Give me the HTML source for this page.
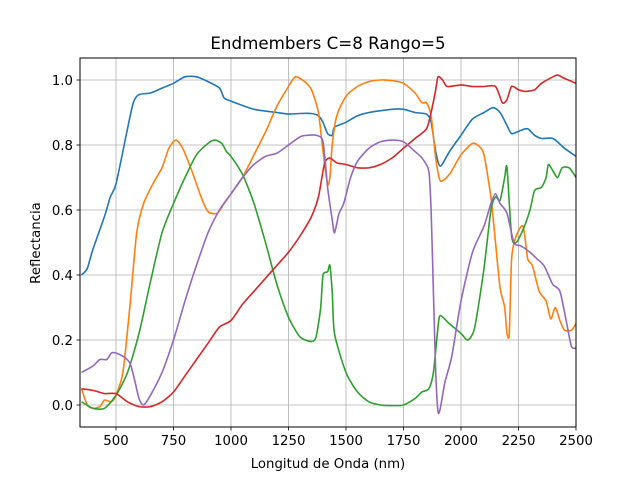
<!DOCTYPE html>
<html><head><meta charset="utf-8"><style>
body{margin:0;background:#fff;}
svg text{font-family:"DejaVu Sans","Liberation Sans",sans-serif;}
</style></head><body>
<svg id="chart" width="640" height="480" xmlns="http://www.w3.org/2000/svg">
<rect width="640" height="480" fill="#fff"/>
<defs><clipPath id="clip"><rect x="80" y="58" width="496" height="369"/></clipPath></defs>
<g id="grid"></g>
<g id="lines" clip-path="url(#clip)"></g>
<rect x="80" y="58" width="496" height="369" fill="none" stroke="#000" stroke-width="1"/>
<g id="ticks"></g>
<text x="328" y="49" font-size="16.7" text-anchor="middle">Endmembers C=8 Rango=5</text>
<text x="328" y="468" font-size="13.3" text-anchor="middle">Longitud de Onda (nm)</text>
<text x="40" y="243" font-size="13.3" text-anchor="middle" transform="rotate(-90 40 243)">Reflectancia</text>
</svg>
<script>
const xTicks=[500,750,1000,1250,1500,1750,2000,2250,2500];
const yTicks=[0.0,0.2,0.4,0.6,0.8,1.0];
const blueWl=[350,375,400,450,475,500,550,575,600,650,700,750,800,850,900,950,970,1000,1100,1200,1250,1300,1350,1380,1400,1420,1440,1450,1500,1550,1600,1700,1750,1800,1850,1870,1890,1910,1950,2000,2050,2100,2140,2170,2200,2220,2260,2290,2320,2350,2400,2450,2500];
const blueVal=[0.40,0.42,0.48,0.58,0.64,0.68,0.85,0.93,0.955,0.96,0.975,0.99,1.01,1.01,0.995,0.975,0.945,0.935,0.91,0.9,0.895,0.897,0.897,0.89,0.87,0.835,0.83,0.855,0.87,0.89,0.9,0.91,0.91,0.9,0.895,0.87,0.78,0.735,0.78,0.83,0.88,0.9,0.915,0.9,0.86,0.835,0.845,0.85,0.83,0.82,0.82,0.79,0.765];
const orangeWl=[350,375,400,430,450,480,500,530,560,590,620,660,700,730,760,790,830,870,900,940,970,1000,1050,1100,1150,1200,1250,1280,1320,1350,1380,1400,1420,1430,1440,1460,1500,1550,1600,1650,1700,1750,1800,1830,1850,1870,1890,1910,1950,2000,2050,2080,2100,2130,2150,2170,2190,2200,2210,2220,2240,2270,2290,2310,2340,2370,2390,2410,2430,2450,2480,2500];
const orangeVal=[0.05,0.0,-0.01,-0.005,0.015,0.01,0.03,0.1,0.3,0.53,0.62,0.68,0.73,0.79,0.815,0.79,0.72,0.64,0.595,0.59,0.62,0.65,0.7,0.77,0.84,0.92,0.98,1.01,0.995,0.97,0.9,0.78,0.68,0.7,0.8,0.89,0.95,0.98,0.995,1.0,0.998,0.99,0.96,0.93,0.93,0.89,0.76,0.69,0.71,0.77,0.805,0.795,0.77,0.64,0.5,0.36,0.3,0.22,0.22,0.45,0.52,0.55,0.45,0.43,0.35,0.32,0.265,0.3,0.26,0.23,0.23,0.25];
const greenWl=[350,400,450,500,550,600,650,700,750,800,850,900,930,960,980,1000,1050,1100,1150,1200,1250,1300,1350,1370,1390,1400,1420,1430,1440,1450,1500,1550,1600,1650,1700,1750,1800,1830,1860,1880,1900,1910,1950,2000,2030,2060,2100,2130,2150,2170,2190,2200,2220,2240,2270,2300,2320,2350,2370,2380,2400,2420,2440,2470,2500];
const greenVal=[0.01,-0.01,-0.01,0.03,0.1,0.22,0.38,0.53,0.62,0.7,0.77,0.805,0.815,0.805,0.78,0.765,0.71,0.62,0.5,0.37,0.27,0.21,0.195,0.21,0.3,0.4,0.41,0.43,0.35,0.22,0.1,0.04,0.01,0.0,-0.002,0.0,0.02,0.04,0.05,0.1,0.24,0.275,0.25,0.22,0.2,0.24,0.42,0.6,0.64,0.63,0.7,0.73,0.52,0.5,0.54,0.6,0.66,0.67,0.7,0.74,0.72,0.7,0.73,0.73,0.7];
const redWl=[350,400,450,500,550,600,650,700,750,800,850,900,950,1000,1050,1100,1150,1200,1250,1300,1350,1380,1400,1410,1430,1460,1500,1550,1600,1650,1700,1750,1800,1850,1870,1890,1900,1920,1940,2000,2050,2100,2150,2180,2200,2220,2250,2280,2320,2350,2400,2420,2450,2500];
const redVal=[0.05,0.045,0.035,0.035,0.01,-0.005,-0.005,0.01,0.04,0.09,0.14,0.19,0.24,0.26,0.31,0.35,0.39,0.43,0.47,0.52,0.58,0.64,0.72,0.75,0.76,0.745,0.74,0.73,0.73,0.74,0.76,0.79,0.82,0.85,0.9,0.97,1.01,1.0,0.98,0.985,0.98,0.98,0.98,0.93,0.94,0.98,0.97,0.965,0.97,0.99,1.01,1.015,1.005,0.99];
const purpleWl=[350,400,430,460,480,500,530,560,580,600,620,650,700,750,800,850,900,950,1000,1050,1100,1150,1200,1250,1300,1330,1370,1400,1420,1440,1450,1470,1490,1520,1550,1600,1650,1700,1750,1800,1830,1860,1870,1880,1890,1900,1910,1930,1960,2000,2050,2100,2130,2150,2170,2200,2230,2260,2300,2330,2360,2380,2400,2430,2460,2480,2500];
const purpleVal=[0.1,0.12,0.14,0.14,0.16,0.16,0.15,0.13,0.08,0.02,0.0,0.03,0.1,0.2,0.32,0.43,0.53,0.6,0.65,0.7,0.74,0.765,0.775,0.8,0.825,0.83,0.83,0.81,0.67,0.57,0.53,0.59,0.62,0.7,0.75,0.79,0.81,0.815,0.81,0.78,0.76,0.72,0.6,0.35,0.1,-0.02,-0.01,0.07,0.15,0.32,0.47,0.55,0.62,0.65,0.62,0.59,0.5,0.49,0.47,0.45,0.43,0.4,0.37,0.35,0.25,0.18,0.175];
const NS='http://www.w3.org/2000/svg';
function xs(v){return 116+(v-500)*0.23;}
function ys(v){return 405-325*v;}
const grid=document.getElementById('grid'),ticks=document.getElementById('ticks'),lines=document.getElementById('lines');
function mk(tag,attrs,parent){const e=document.createElementNS(NS,tag);for(const k in attrs)e.setAttribute(k,attrs[k]);parent.appendChild(e);return e;}
xTicks.forEach(t=>{
  const x=xs(t);
  const g=mk('line',{x1:x,x2:x,y1:58,y2:427,stroke:'#b0b0b0','stroke-width':0.8},grid);
  
  
  mk('line',{x1:x,x2:x,y1:427,y2:430.5,stroke:'#000','stroke-width':0.8},ticks);
  const tx=mk('text',{x:x,y:445,'font-size':13.3,'text-anchor':'middle'},ticks);
  tx.textContent=t;
  
  
});
yTicks.forEach(t=>{
  const y=ys(t);
  const g=mk('line',{x1:80,x2:576,y1:y,y2:y,stroke:'#b0b0b0','stroke-width':0.8},grid);
  
  
  mk('line',{x1:76.5,x2:80,y1:y,y2:y,stroke:'#000','stroke-width':0.8},ticks);
  const tx=mk('text',{x:73,y:y+5,'font-size':13.3,'text-anchor':'end'},ticks);
  tx.textContent=t.toFixed(1);
  
  
});
function smooth(P){
  let d='M'+P[0][0].toFixed(1)+','+P[0][1].toFixed(1);
  for(let i=0;i<P.length-1;i++){
    const p0=P[Math.max(0,i-1)],p1=P[i],p2=P[i+1],p3=P[Math.min(P.length-1,i+2)];
    const k=0.12;
    const c1=[p1[0]+(p2[0]-p0[0])*k,p1[1]+(p2[1]-p0[1])*k];
    const c2=[p2[0]-(p3[0]-p1[0])*k,p2[1]-(p3[1]-p1[1])*k];
    d+=' C'+c1[0].toFixed(1)+','+c1[1].toFixed(1)+' '+c2[0].toFixed(1)+','+c2[1].toFixed(1)+' '+p2[0].toFixed(1)+','+p2[1].toFixed(1);
  }
  return d;
}
const series=[[blueWl,blueVal,'#1f77b4','endmember-1-line'],[orangeWl,orangeVal,'#ff7f0e','endmember-2-line'],[greenWl,greenVal,'#2ca02c','endmember-3-line'],[redWl,redVal,'#d62728','endmember-4-line'],[purpleWl,purpleVal,'#9467bd','endmember-5-line']];
series.forEach(s=>{
  const P=s[0].map((w,i)=>[xs(w),ys(s[1][i])]);
  const p=mk('path',{d:smooth(P),fill:'none',stroke:s[2],'stroke-width':1.6,'stroke-linejoin':'round'},lines);
  
  
});
</script>
</body></html>
